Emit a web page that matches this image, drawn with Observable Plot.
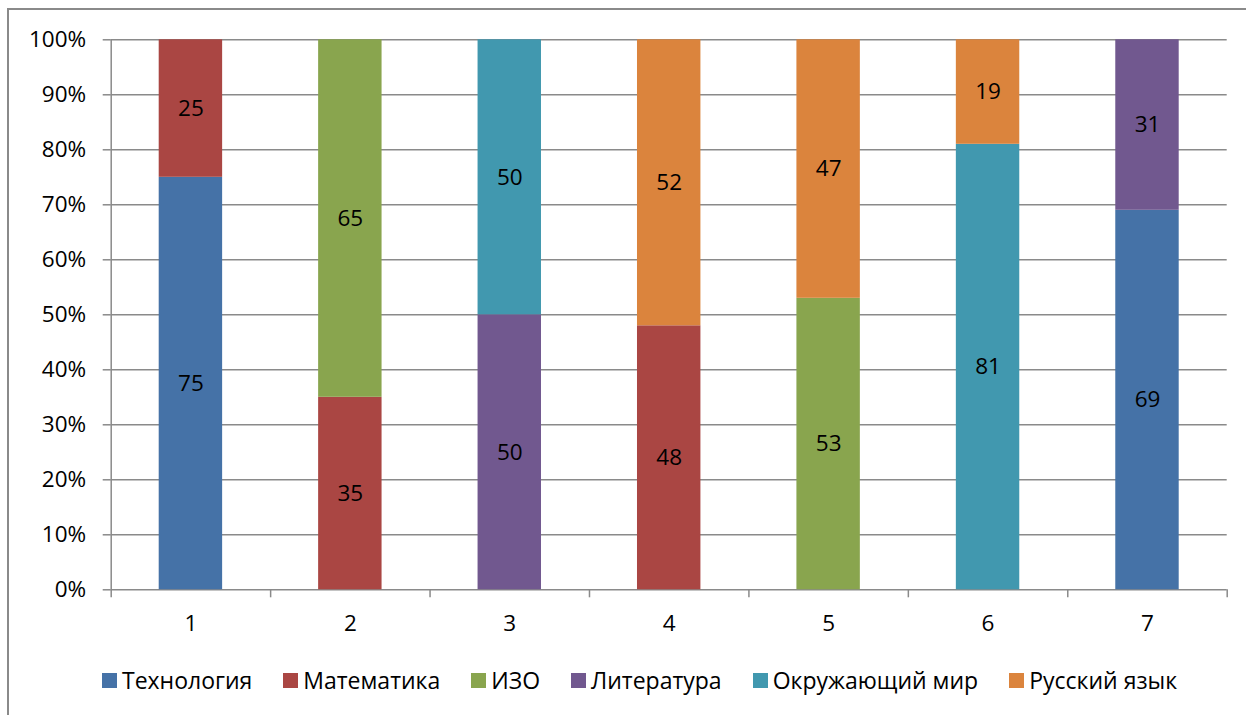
<!DOCTYPE html>
<html>
<head>
<meta charset="utf-8">
<script src="https://cdn.jsdelivr.net/npm/d3@7"></script>
<script src="https://cdn.jsdelivr.net/npm/@observablehq/plot@0.6"></script>
<style>
  html, body { margin: 0; padding: 0; background: #fff; }
  body { width: 1246px; height: 715px; position: relative; overflow: hidden; font-family: "Open Sans", "Noto Sans", sans-serif; }
  #frame { position: absolute; left: 7px; top: 8px; width: 1300px; height: 800px; border-left: 2px solid #8a8a8a; border-top: 2px solid #8a8a8a; }
  #chart { position: absolute; left: 0; top: 0; }
  #legend { position: absolute; left: 102px; top: 664px; display: flex; align-items: center; font-size: 23px; color: #000; white-space: nowrap; }
  #legend .item { display: flex; align-items: center; margin-right: 31px; }
  #legend .sw { width: 15px; height: 15px; margin-right: 5px; }
</style>
</head>
<body>
<div id="frame"></div>
<div id="chart"></div>
<div id="legend"></div>
<script>
const groups = [1, 2, 3, 4, 5, 6, 7];
const subjects = ["Технология", "Математика", "ИЗО", "Литература", "Окружающий мир", "Русский язык"];
const colors = ["#4572A7", "#AA4643", "#89A54E", "#71588F", "#4198AF", "#DB843D"];
const technology = [75, 0, 0, 0, 0, 0, 69];
const mathematics = [25, 35, 0, 48, 0, 0, 0];
const art = [0, 65, 0, 0, 53, 0, 0];
const literature = [0, 0, 50, 0, 0, 0, 31];
const world = [0, 0, 50, 0, 0, 81, 0];
const russian = [0, 0, 0, 52, 47, 19, 0];
const yTicks = [0, 10, 20, 30, 40, 50, 60, 70, 80, 90, 100];

const series = [technology, mathematics, art, literature, world, russian];
const rows = [];
series.forEach((vals, si) => {
  vals.forEach((v, gi) => {
    if (v > 0) rows.push({g: groups[gi], subject: subjects[si], value: v});
  });
});
const bounds = [0.5, ...groups.map(g => g + 0.5)];

const FS = 22.5;
const W = 1246, H = 650;
const chart = Plot.plot({
  width: W,
  height: H,
  marginLeft: 110.7,
  marginRight: 19.3,
  marginTop: 39.3,
  marginBottom: H - 589.3,
  x: {type: "linear", domain: [0.5, 7.5]},
  y: {domain: [0, 100]},
  color: {domain: subjects, range: colors},
  style: {fontFamily: "'Open Sans', 'Noto Sans', sans-serif", fontSize: FS + "px", color: "#000", background: "transparent"},
  marks: [
    Plot.gridY(yTicks, {stroke: "#8a8a8a", strokeOpacity: 1, strokeWidth: 1.5}),
    Plot.axisY(yTicks, {tickSize: 8, tickPadding: 17, tickFormat: d => d + "%", stroke: "#8a8a8a", strokeWidth: 1.5, strokeOpacity: 1, label: null, fontSize: FS}),
    Plot.ruleX([0.5], {stroke: "#8a8a8a", strokeWidth: 1.5}),
    Plot.axisX(bounds, {tickSize: 8, tickFormat: () => "", stroke: "#8a8a8a", strokeWidth: 1.5, strokeOpacity: 1, label: null}),
    Plot.axisX(groups, {tickSize: 0, tickPadding: 25, tickFormat: d => String(d), label: null, fontSize: FS}),
    Plot.rectY(rows, Plot.stackY({
      x: "g",
      x1: d => d.g - 0.5,
      x2: d => d.g + 0.5,
      y: "value",
      fill: "subject",
      z: "subject",
      order: subjects,
      insetLeft: 48,
      insetRight: 48
    })),
    Plot.text(rows, Plot.stackY({
      x: "g",
      y: "value",
      z: "subject",
      order: subjects,
      text: d => String(d.value),
      fill: "#000",
      fontSize: FS
    }))
  ]
});
document.getElementById("chart").appendChild(chart);

const legend = document.getElementById("legend");
subjects.forEach((s, i) => {
  const item = document.createElement("div");
  item.className = "item";
  const sw = document.createElement("div");
  sw.className = "sw";
  sw.style.background = colors[i];
  const t = document.createElement("span");
  t.textContent = s;
  item.appendChild(sw);
  item.appendChild(t);
  legend.appendChild(item);
});
</script>
</body>
</html>
